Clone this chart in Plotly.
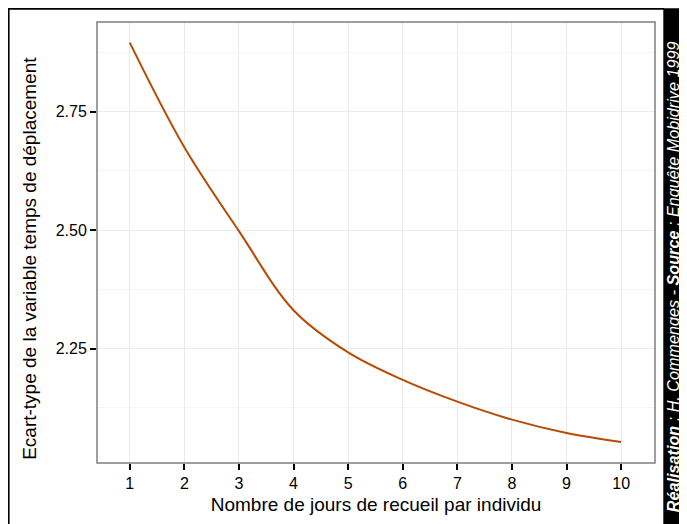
import plotly.graph_objects as go

jours = [1, 2, 3, 4, 5, 6, 7, 8, 9, 10]
ecart_type = [2.896, 2.675, 2.498, 2.331, 2.242, 2.184, 2.138, 2.100, 2.072, 2.053]
x_ticks = [1, 2, 3, 4, 5, 6, 7, 8, 9, 10]
y_ticks = [2.25, 2.50, 2.75]
y_tick_labels = ["2.25", "2.50", "2.75"]

# page is offset by the 8px body margin, so the figure is sized to the visible area
W, H = 679, 516
L, R, T, B = 89, 32, 14, 57
pw, ph = W - L - R, H - T - B

def px(x):
    return (x - L) / pw

def py(y):
    return (H - B - y) / ph

fig = go.Figure()
fig.add_trace(go.Scatter(
    x=jours, y=ecart_type, mode="lines",
    line=dict(color="#B84B00", width=2, shape="spline", smoothing=1.0),
    hoverinfo="x+y", showlegend=False,
))

font = "Liberation Sans, Arial, Helvetica, sans-serif"

fig.update_layout(
    width=W, height=H,
    margin=dict(l=L, r=R, t=T, b=B),
    paper_bgcolor="white", plot_bgcolor="white",
    font=dict(family=font, color="black"),
    xaxis=dict(
        range=[0.4, 10.62], tickvals=x_ticks, ticktext=[str(v) for v in x_ticks],
        showgrid=True, gridcolor="#EBEBEB", gridwidth=1,
        ticks="outside", ticklen=6, tickwidth=1.5, tickcolor="black",
        tickfont=dict(size=16, color="black"),
        showline=False, zeroline=False,
        title=dict(text="Nombre de jours de recueil par individu", font=dict(size=19), standoff=6),
    ),
    yaxis=dict(
        range=[2.0085, 2.9395], tickvals=y_ticks, ticktext=y_tick_labels,
        showgrid=True, gridcolor="#EBEBEB", gridwidth=1,
        minor=dict(dtick=0.125, tick0=2.125, showgrid=True, gridcolor="#F5F5F5", gridwidth=1),
        ticks="outside", ticklen=6, tickwidth=1.5, tickcolor="black",
        tickfont=dict(size=16, color="black"),
        showline=False, zeroline=False,
    ),
    shapes=[
        # panel border
        dict(type="rect", xref="paper", yref="paper", x0=0, x1=1, y0=0, y1=1,
             line=dict(color="#7F7F7F", width=1.5), fillcolor="rgba(0,0,0,0)", layer="above"),
        # right black strip
        dict(type="rect", xref="paper", yref="paper", x0=px(655.3), x1=px(700), y0=py(540), y1=py(0),
             line=dict(width=0), fillcolor="black", layer="above"),
        # outer frame
        dict(type="line", xref="paper", yref="paper", x0=px(0), x1=px(656), y0=py(0.8), y1=py(0.8),
             line=dict(color="black", width=1.6)),
        dict(type="line", xref="paper", yref="paper", x0=px(0.8), x1=px(0.8), y0=py(0), y1=py(540),
             line=dict(color="black", width=1.6)),
    ],
    annotations=[
        dict(xref="paper", yref="paper", x=px(22), y=py(253), showarrow=False, textangle=-90,
             xanchor="center", yanchor="middle",
             text="Ecart-type de la variable temps de déplacement",
             font=dict(size=19, color="black", family=font)),
        dict(xref="paper", yref="paper", x=px(664.5), y=py(271), showarrow=False, textangle=-90,
             xanchor="center", yanchor="middle",
             text="<b><i>Réalisation</i></b><i> : H. Commenges - </i><b><i>Source</i></b><i> : Enquête Mobidrive 1999</i>",
             font=dict(size=16.2, color="white", family=font)),
    ],
)

fig.write_html("out.html")
